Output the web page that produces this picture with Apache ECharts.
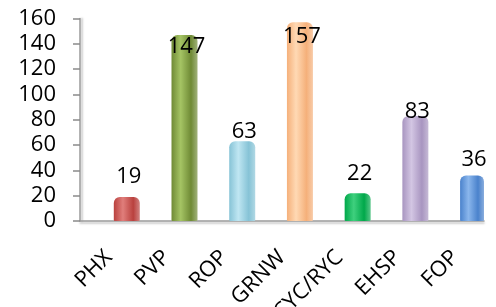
<!DOCTYPE html>
<html><head><meta charset="utf-8">
<script src="https://cdn.jsdelivr.net/npm/echarts@6/dist/echarts.min.js"></script>
<style>html,body{margin:0;padding:0;background:#fff}#c{width:496px;height:307px}</style>
</head><body><div id="c"></div>
<script>
const categories = ['PHX','PVP','ROP','GRNW','CYC/RYC','EHSP','FOP'];
const values = [19,147,63,157,22,83,36];
const yTicks = [0,20,40,60,80,100,120,140,160];
const baseColors = ['#b9413e','#6f8a35','#86c3d6','#f5b07a','#00a84a','#a895c0','#4a82cc'];
const lightColors = ['#e07e7b','#a5c464','#bfe6f2','#ffd9b4','#3fd07e','#d3c6e3','#8ab6ec'];

const chart = echarts.init(document.getElementById('c'));
const font = '"Open Sans", "Liberation Sans", sans-serif';
const dataItems = values.map((v,i)=>({
  value: v,
  itemStyle: {
    color: new echarts.graphic.LinearGradient(0,0,1,0,[
      {offset:0, color: baseColors[i]},
      {offset:0.35, color: lightColors[i]},
      {offset:0.75, color: baseColors[i]},
      {offset:1, color: echarts.color.lift(baseColors[i], 0.35)}
    ])
  },
  label: { offset: [2, 0.25*v - 14] }
}));
chart.setOption({
  animation:false,
  grid:{left:80,right:12,top:18.5,bottom:86,containLabel:false,outerBoundsMode:'none'},
  xAxis:{
    type:'category', data:categories,
    axisLine:{lineStyle:{color:'#9a9a9a',width:1.5,shadowColor:'rgba(0,0,0,0.25)',shadowOffsetY:2,shadowBlur:2}},
    axisTick:{length:7,lineStyle:{color:'#8a8a8a',width:1.5}},
    axisLabel:{rotate:45,margin:33,fontSize:22,color:'#000',fontFamily:font,padding:[0,0,0,0]}
  },
  yAxis:{
    type:'value', min:yTicks[0], max:yTicks[yTicks.length-1], interval:yTicks[1]-yTicks[0],
    splitLine:{show:false},
    axisLine:{show:true,lineStyle:{color:'#9a9a9a',width:1.5,shadowColor:'rgba(0,0,0,0.25)',shadowOffsetX:2,shadowBlur:2}},
    axisTick:{show:true,length:7,lineStyle:{color:'#8a8a8a',width:1.5}},
    axisLabel:{fontSize:22,color:'#000',fontFamily:font,margin:24}
  },
  series:[
    {type:'bar',data:[],barWidth:26,barGap:'38%'},
    {type:'bar',data:dataItems,barWidth:26,
     itemStyle:{borderRadius:[6,6,1,1]},
     label:{show:true,position:'top',distance:0,fontSize:22,color:'#000',fontFamily:font}}
  ]
});
</script></body></html>
